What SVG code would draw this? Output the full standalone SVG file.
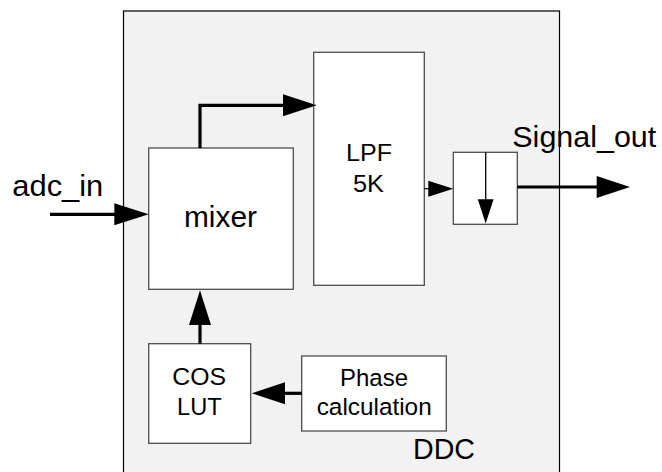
<svg xmlns="http://www.w3.org/2000/svg" width="662" height="472" viewBox="0 0 662 472">
<style>
.blk{fill:#fff;stroke:#4d4d4d;stroke-width:1.3}
.t{font-family:"Liberation Sans",Arial,sans-serif;fill:#000}
.w{stroke:#000;stroke-width:3.2;fill:none}
.thin{stroke:#000;stroke-width:1.2;fill:none}
.ah{fill:#000;stroke:none}
</style>
<rect width="662" height="472" fill="#fff"/>
<g id="ddc">
<rect x="123.5" y="11" width="436" height="470" fill="#f2f2f2" stroke="#000" stroke-width="1.2"/>
<text class="t" x="413" y="459" font-size="29.5" textLength="62" lengthAdjust="spacingAndGlyphs">DDC</text>
</g>
<g id="mixer">
<rect class="blk" x="148.7" y="148" width="144.6" height="141.3"/>
<text class="t" x="184" y="226.7" font-size="30" textLength="73" lengthAdjust="spacingAndGlyphs">mixer</text>
</g>
<g id="lpf">
<rect class="blk" x="313.7" y="52.3" width="110.6" height="233"/>
<text class="t" x="346" y="160.7" font-size="24.5" textLength="46" lengthAdjust="spacingAndGlyphs">LPF</text>
<text class="t" x="353" y="191.5" font-size="24.5" textLength="31" lengthAdjust="spacingAndGlyphs">5K</text>
</g>
<g id="downsample">
<rect class="blk" x="453.3" y="152.3" width="64" height="72"/>
<line x1="485.7" y1="152.3" x2="485.7" y2="201" stroke="#000" stroke-width="1.3"/>
<polygon class="ah" points="477.8,199.3 493.6,199.3 485.7,223.5"/>
</g>
<g id="cos">
<rect class="blk" x="148.7" y="343.7" width="102" height="99.6"/>
<text class="t" x="172.3" y="385" font-size="24.5" textLength="53.7" lengthAdjust="spacingAndGlyphs">COS</text>
<text class="t" x="177" y="415" font-size="24.5" textLength="44.7" lengthAdjust="spacingAndGlyphs">LUT</text>
</g>
<g id="phase">
<rect class="blk" x="301.7" y="356" width="144.6" height="75"/>
<text class="t" x="340" y="386" font-size="24.5" textLength="68" lengthAdjust="spacingAndGlyphs">Phase</text>
<text class="t" x="316.7" y="415" font-size="24.5" textLength="115" lengthAdjust="spacingAndGlyphs">calculation</text>
</g>
<g id="labels">
<text class="t" x="12.3" y="195.7" font-size="30" textLength="91" lengthAdjust="spacingAndGlyphs">adc_in</text>
<text class="t" x="512.3" y="146.7" font-size="30" textLength="144" lengthAdjust="spacingAndGlyphs">Signal_out</text>
</g>
<g id="connectors">
<line class="w" x1="50" y1="214.3" x2="116" y2="214.3"/>
<polygon class="ah" points="114.3,203.3 148.7,214.3 114.3,225.3"/>
<polyline class="w" points="200,148 200,105.3 285,105.3"/>
<polygon class="ah" points="283,94.3 316.7,105.3 283,116.3"/>
<line class="w" x1="200" y1="343.7" x2="200" y2="323"/>
<polygon class="ah" points="189,325 211,325 200,290.3"/>
<line class="w" x1="301.7" y1="393.3" x2="283" y2="393.3"/>
<polygon class="ah" points="285,382.3 285,404.3 251.7,393.3"/>
<line class="thin" x1="424.3" y1="188.7" x2="430" y2="188.7"/>
<polygon class="ah" points="428.3,180.7 453.3,188.7 428.3,196.7"/>
<line class="w" x1="517.3" y1="187" x2="598" y2="187"/>
<polygon class="ah" points="596.7,176 630,187 596.7,198"/>
</g>
</svg>
